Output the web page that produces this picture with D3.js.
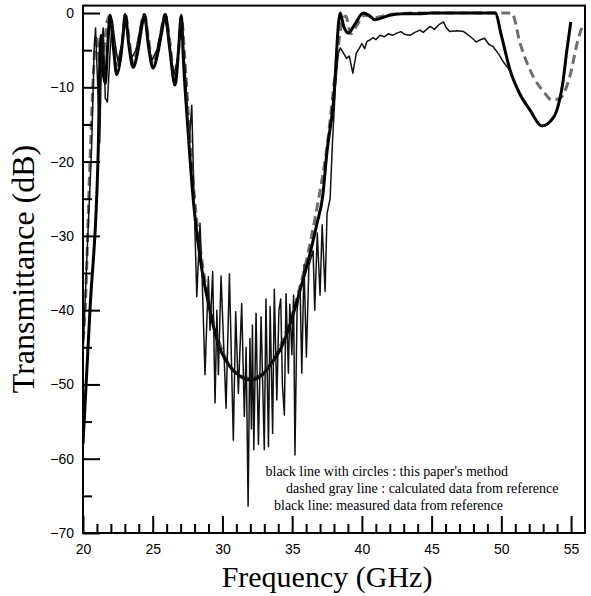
<!DOCTYPE html>
<html><head><meta charset="utf-8">
<script src="https://cdn.jsdelivr.net/npm/d3@7"></script>
<style>body{margin:0;background:#fff}</style>
</head><body>
<svg id="c" width="591" height="596"></svg>
<script>
const xMajorTicks = [20,25,30,35,40,45,50,55];
const xMinorTicks = d3.range(20,56,1);
const yMajorTicks = [-70,-60,-50,-40,-30,-20,-10,0];
const yMinorTicks = d3.range(-65,0,10);

const method = [[20.0,-58],[20.5,-40],[21.1,-18],[21.2,-7],[21.3,-3],[21.45,-8],[21.6,-9.5],[21.75,-5],[21.95,-0.3],[22.2,-5],[22.42,-8.3],[22.7,-6],[22.9,-2.5],[23.02,-0.2],[23.3,-4.5],[23.59,-7.3],[23.9,-5.5],[24.2,-2],[24.4,-0.2],[24.7,-4.5],[25.02,-7.4],[25.35,-5.5],[25.65,-2.5],[25.9,-0.2],[26.2,-4.5],[26.6,-9.7],[26.85,-5],[27.05,-0.3],[27.2,-6.3],[27.5,-15],[27.9,-25],[28.4,-33],[29.1,-40],[29.6,-44],[30.5,-47.5],[31.2,-48.8],[32.0,-49.4],[32.8,-48.8],[33.5,-47.2],[34.35,-44.5],[35.0,-41],[35.57,-37.3],[36.2,-33],[36.76,-28.5],[37.2,-24.5],[37.48,-19],[37.96,-12],[38.44,0],[38.7,-1.8],[39.03,-2.7],[39.5,-1.5],[40.1,0],[40.5,-0.3],[40.95,-0.9],[41.5,-0.6],[42.0,-0.3],[43,-0.1],[44,-0.1],[45,0],[46,0],[47,0],[48,0],[49,0],[49.56,0],[50.0,-3],[50.63,-7.7],[51.3,-10.8],[52.07,-13.1],[52.9,-15.2],[53.5,-14.6],[53.98,-13.1],[54.4,-9.5],[54.7,-5],[54.98,-1.2]];

const calculated = [[20.02,-44],[20.15,-40],[20.5,-20],[20.75,-8],[20.95,-3],[21.1,-5],[21.3,-8],[21.5,-5],[21.75,-1],[21.95,-0.3],[22.2,-4],[22.45,-7],[22.75,-5],[23.05,-0.2],[23.3,-3.5],[23.6,-6.8],[23.95,-4],[24.4,-0.2],[24.7,-3.5],[25.0,-6.8],[25.4,-4.5],[25.9,-0.2],[26.2,-3.5],[26.6,-9],[26.9,-4],[27.05,-0.5],[27.3,-6],[27.6,-15],[28.0,-25],[28.5,-33],[29.2,-40.5],[30.0,-45.5],[31.0,-48.5],[32.0,-49.2],[33.0,-48.3],[34.0,-45.5],[35.0,-40.5],[36.0,-33.5],[36.8,-26],[37.5,-18],[38.1,-8],[38.6,-1],[38.85,-0.4],[39.2,-2.8],[39.6,-1.8],[40.2,-0.3],[41.0,-0.6],[42.0,-0.2],[44,0],[46,0],[48,0],[50.75,0],[51.35,-4.1],[52.3,-8.6],[53.0,-10.5],[53.62,-11.7],[54.2,-11.5],[54.9,-8.6],[55.5,-3.6],[55.8,-1.8]];

const measured = [[20.0,-46],[20.3,-32],[20.62,-18],[20.8,-5],[20.9,-2],[21.02,-8],[21.2,-17.5],[21.35,-4],[21.45,-2],[21.6,-11.5],[21.75,-12],[21.95,-5],[22.1,-1],[22.3,-4],[22.5,-6.5],[22.8,-4],[23.0,-0.5],[23.2,-3],[23.5,-6],[23.8,-5],[24.2,-1],[24.4,-0.3],[24.6,-3],[24.9,-6.5],[25.3,-5],[25.7,-1.2],[25.85,-0.5],[26.1,-3],[26.5,-8.5],[26.8,-6],[27.0,-1],[27.15,-3],[27.4,-10],[27.6,-18],[27.8,-12.4],[27.95,-24],[28.16,-38.2],[28.39,-28.3],[28.55,-36],[28.75,-48.7],[28.99,-35.5],[29.11,-42.7],[29.3,-34.8],[29.47,-52.5],[29.6,-40],[29.71,-48.7],[29.9,-35.4],[30.26,-53.2],[30.5,-35.1],[30.78,-57.5],[30.95,-40.2],[31.14,-51.2],[31.38,-39.1],[31.57,-54.3],[31.7,-45],[31.84,-66.4],[31.97,-43.8],[32.08,-56],[32.15,-42],[32.25,-58.8],[32.41,-40.4],[32.58,-58.1],[32.77,-40.9],[33.0,-58.8],[33.12,-38.5],[33.3,-58.4],[33.42,-39.5],[33.6,-56.6],[33.72,-37.2],[33.9,-52.1],[34.05,-40],[34.18,-38.5],[34.3,-50],[34.44,-54.1],[34.56,-37.8],[34.73,-48.5],[34.83,-39.2],[34.98,-46],[35.1,-38],[35.2,-59.5],[35.35,-40],[35.57,-36.8],[35.69,-48.5],[35.85,-33.9],[36.02,-46.3],[36.2,-34],[36.5,-32],[36.62,-40],[36.8,-29.6],[37.0,-38],[37.15,-28.5],[37.36,-37.5],[37.5,-27],[37.72,-25],[37.9,-17],[38.1,-10],[38.3,-5.5],[38.45,-4.7],[38.65,-5.3],[38.9,-6.1],[39.1,-5.8],[39.35,-8.1],[39.6,-5.4],[39.8,-4.8],[40.0,-4.1],[40.2,-4.8],[40.35,-3.85],[40.6,-3.6],[40.8,-3.3],[41.0,-3.6],[41.3,-3.0],[41.6,-3.2],[41.9,-2.8],[42.2,-3.0],[42.5,-2.7],[42.8,-2.5],[43.1,-2.9],[43.46,-3.0],[43.8,-2.6],[44.17,-2.3],[44.4,-2.6],[44.9,-1.8],[45.2,-2.2],[45.5,-1.6],[45.85,-1.2],[46.05,-2.0],[46.3,-2.5],[46.8,-2.4],[47.3,-2.5],[47.8,-3.2],[48.2,-3.9],[48.5,-3.6],[48.8,-3.4],[49.1,-4.2],[49.4,-4.5],[49.8,-5.5],[50.15,-6.6],[50.6,-7.7]];

const legendLines = ["black line with circles : this paper's method","dashed gray line : calculated data from reference","black line: measured data from reference"];
const xTitle = "Frequency (GHz)";
const yTitle = "Transmittance (dB)";

const svg = d3.select("#c");
const L=83, R=585, T=5.6, B=533;
const x = d3.scaleLinear().domain([20,56]).range([L,R]);
const y = d3.scaleLinear().domain([-70,1]).range([B,T]);

svg.append("clipPath").attr("id","pc").append("rect").attr("x",L).attr("y",T).attr("width",R-L).attr("height",B-T);

const g = svg.append("g").attr("clip-path","url(#pc)");
const lineS = d3.line().x(d=>x(d[0])).y(d=>y(d[1])).curve(d3.curveMonotoneX);
const lineL = d3.line().x(d=>x(d[0])).y(d=>y(d[1]));

g.append("path").datum(calculated).attr("d",lineS).attr("fill","none").attr("stroke","#6e6e6e").attr("stroke-width",3).attr("stroke-dasharray","9,5");
g.append("path").datum(method).attr("d",lineS).attr("fill","none").attr("stroke","#000").attr("stroke-width",3).attr("stroke-linejoin","round");
g.append("path").datum(measured).attr("d",lineL).attr("fill","none").attr("stroke","#111").attr("stroke-width",1.5).attr("stroke-linejoin","round");

const tickFont = "Liberation Sans, Arial, sans-serif";
const xa = svg.append("g").attr("transform",`translate(0,${B})`)
  .call(d3.axisBottom(x).tickValues(xMajorTicks).tickSize(-17).tickSizeOuter(0).tickPadding(11).tickFormat(d3.format("d")));
const xm = svg.append("g").attr("transform",`translate(0,${B})`)
  .call(d3.axisBottom(x).tickValues(xMinorTicks.filter(v=>v%5!==0)).tickSize(-9).tickSizeOuter(0).tickFormat(""));
const ya = svg.append("g").attr("transform",`translate(${L},0)`)
  .call(d3.axisLeft(y).tickValues(yMajorTicks).tickSize(-17).tickSizeOuter(0).tickPadding(9).tickFormat(d3.format("d")));
const ym = svg.append("g").attr("transform",`translate(${L},0)`)
  .call(d3.axisLeft(y).tickValues(yMinorTicks).tickSize(-9).tickSizeOuter(0).tickFormat(""));
[xa,xm,ya,ym].forEach(a=>{
  a.select(".domain").remove();
  a.selectAll("line").attr("stroke","#000").attr("stroke-width",2);
  a.selectAll("text").attr("font-family",tickFont).attr("font-size",14).attr("fill","#000");
});

svg.append("rect").attr("x",L).attr("y",T).attr("width",R-L).attr("height",B-T)
  .attr("fill","none").attr("stroke","#000").attr("stroke-width",2);

const lx = [265.5,286,274];
const ly = [475.5,493,510];
legendLines.forEach((t,i)=>{
  svg.append("text").attr("x",lx[i]).attr("y",ly[i]).text(t)
    .attr("font-family","Liberation Serif, Times New Roman, serif").attr("font-size",14).attr("fill","#000");
});

svg.append("text").attr("x",327).attr("y",587).attr("text-anchor","middle").text(xTitle)
  .attr("font-family","Liberation Serif, Times New Roman, serif").attr("font-size",30).attr("fill","#000");
svg.append("text").attr("transform","translate(34,269) rotate(-90)").attr("text-anchor","middle").text(yTitle)
  .attr("font-family","Liberation Serif, Times New Roman, serif").attr("font-size",32).attr("fill","#000");
</script>
</body></html>
